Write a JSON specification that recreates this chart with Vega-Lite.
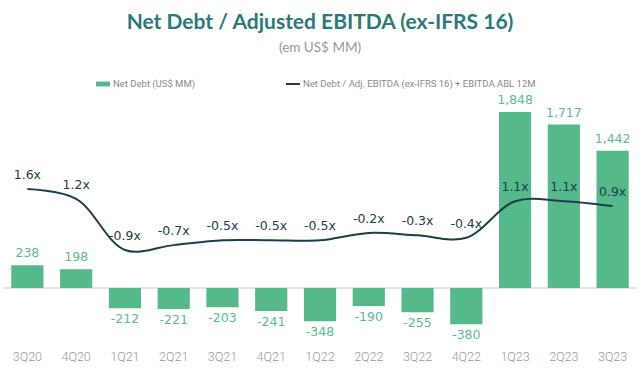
{
  "$schema": "https://vega.github.io/schema/vega-lite/v6.json",
  "width": 634,
  "height": 240,
  "autosize": {"type": "none"},
  "padding": {"left": 3, "right": 3, "top": 100, "bottom": 37},
  "background": "white",
  "config": {
    "view": {"stroke": null},
    "locale": {"number": {"decimal": ".", "thousands": ",", "grouping": [3], "currency": ["$", ""], "minus": "-"}}
  },
  "title": {
    "text": "Net Debt / Adjusted EBITDA (ex-IFRS 16)",
    "subtitle": "(em US$ MM)",
    "anchor": "middle",
    "frame": "group",
    "color": "#2b7a78",
    "font": "Lato",
    "fontSize": 21,
    "fontWeight": "bold",
    "subtitleColor": "#999999",
    "subtitleFont": "Lato",
    "subtitleFontSize": 13.5,
    "subtitlePadding": 8,
    "offset": 22
  },
  "data": {
    "values": [
      {"q": "3Q20", "debt": 238, "ratio": 1.6, "rl": "1.6x"},
      {"q": "4Q20", "debt": 198, "ratio": 1.2, "rl": "1.2x"},
      {"q": "1Q21", "debt": -212, "ratio": -0.9, "rl": "-0.9x"},
      {"q": "2Q21", "debt": -221, "ratio": -0.7, "rl": "-0.7x"},
      {"q": "3Q21", "debt": -203, "ratio": -0.5, "rl": "-0.5x"},
      {"q": "4Q21", "debt": -241, "ratio": -0.5, "rl": "-0.5x"},
      {"q": "1Q22", "debt": -348, "ratio": -0.5, "rl": "-0.5x"},
      {"q": "2Q22", "debt": -190, "ratio": -0.2, "rl": "-0.2x"},
      {"q": "3Q22", "debt": -255, "ratio": -0.3, "rl": "-0.3x"},
      {"q": "4Q22", "debt": -380, "ratio": -0.4, "rl": "-0.4x"},
      {"q": "1Q23", "debt": 1848, "ratio": 1.1, "rl": "1.1x"},
      {"q": "2Q23", "debt": 1717, "ratio": 1.1, "rl": "1.1x"},
      {"q": "3Q23", "debt": 1442, "ratio": 0.9, "rl": "0.9x"}
    ]
  },
  "encoding": {
    "x": {
      "field": "q", "type": "nominal", "sort": null,
      "scale": {"paddingInner": 0.34, "paddingOuter": 0.17},
      "axis": {"title": null, "labelAngle": 0, "domain": false, "ticks": false, "labelPadding": 10,
               "labelColor": "#9a9a9a", "labelFontSize": 12.5, "labelFont": "Roboto", "labelFontWeight": 300}
    }
  },
  "layer": [
    {
      "encoding": {
        "y": {"field": "debt", "type": "quantitative", "scale": {"domain": [-546, 1975], "nice": false, "zero": false}, "axis": null}
      },
      "layer": [
        {
          "mark": {"type": "rule", "color": "#e4e4e4", "strokeWidth": 1},
          "encoding": {"x": {"value": 0}, "x2": {"value": 634}, "y": {"datum": 0, "type": "quantitative"}}
        },
        {
          "mark": {"type": "bar", "color": "#55b98b"},
          "encoding": {
            "color": {"datum": "Net Debt (US$ MM)", "type": "nominal",
              "scale": {"range": ["#55b98b"]},
              "legend": {"orient": "none", "legendX": 92, "legendY": -24, "title": null, "padding": 0,
                "symbolType": "M-1,-0.35H1V0.35H-1Z", "symbolSize": 196, "labelFontSize": 9.5, "labelColor": "#8a8a8a",
                "labelFont": "Roboto", "labelOffset": 2, "labelLimit": 400}}
          }
        },
        {
          "transform": [{"filter": "datum.debt >= 0"}],
          "mark": {"type": "text", "baseline": "bottom", "dy": -5, "color": "#5cbb8e", "fontSize": 12.5, "font": "DejaVu Sans"},
          "encoding": {"text": {"field": "debt", "type": "quantitative", "format": ","}}
        },
        {
          "transform": [{"filter": "datum.debt < 0"}],
          "mark": {"type": "text", "baseline": "top", "dy": 5, "color": "#5cbb8e", "fontSize": 12.5, "font": "DejaVu Sans"},
          "encoding": {"text": {"field": "debt", "type": "quantitative", "format": ","}}
        }
      ]
    },
    {
      "encoding": {
        "y": {"field": "ratio", "type": "quantitative", "scale": {"domain": [-4.59, 5.25], "nice": false, "zero": false}, "axis": null}
      },
      "layer": [
        {
          "mark": {"type": "line", "interpolate": "catmull-rom", "strokeWidth": 2},
          "encoding": {
            "stroke": {"datum": "Net Debt / Adj. EBITDA (ex-IFRS 16) + EBITDA ABL 12M", "type": "nominal",
              "scale": {"range": ["#1d4048"]},
              "legend": {"orient": "none", "legendX": 282, "legendY": -24, "title": null, "padding": 0,
                "symbolType": "stroke", "symbolSize": 196, "symbolStrokeWidth": 2, "labelFontSize": 9.5, "labelColor": "#8a8a8a",
                "labelFont": "Roboto", "labelOffset": 2, "labelLimit": 400}}
          }
        },
        {
          "mark": {"type": "text", "baseline": "middle", "dy": -14, "color": "#1d4048", "fontSize": 12.5, "font": "DejaVu Sans"},
          "encoding": {"text": {"field": "rl", "type": "nominal"}}
        }
      ]
    }
  ],
  "resolve": {"scale": {"y": "independent"}}
}
